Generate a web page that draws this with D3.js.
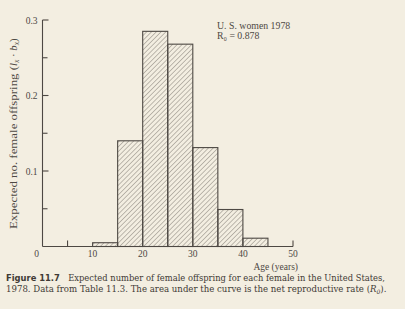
<!DOCTYPE html>
<html><head><meta charset="utf-8">
<script src="https://cdn.jsdelivr.net/npm/d3@7"></script>
<style>
html,body{margin:0;padding:0;background:#f3eee1;}
svg{display:block;}
</style></head>
<body>
<script>
// Data
const binStarts = [10, 15, 20, 25, 30, 35, 40];
const binWidth = 5;
const values = [0.005, 0.140, 0.285, 0.268, 0.131, 0.049, 0.011];
const yTicksMajor = [0.1, 0.2, 0.3];
const yTickLabels = ["0.1", "0.2", "0.3"];
const yTicksMinor = [0.05, 0.15, 0.25];
const xTicksLabeled = [0, 10, 20, 30, 40, 50];
const xTicksMinor = [5, 50];
const legendLines = ["U. S. women 1978", "R\u2080 = 0.878"];
const captionLines = [
  "Expected number of female offspring for each female in the United States,",
  "1978. Data from Table 11.3. The area under the curve is the net reproductive rate ("
];

const W = 405, H = 309;
const ink = "#4d4843";
const svg = d3.select("body").append("svg").attr("width", W).attr("height", H);
svg.append("rect").attr("width", W).attr("height", H).attr("fill", "#f3eee1");

const x = d3.scaleLinear().domain([0, 50]).range([42.5, 293]);
const y = d3.scaleLinear().domain([0, 0.3]).range([246.5, 20]);

const defs = svg.append("defs");
const pat = defs.append("pattern").attr("id", "hatch").attr("patternUnits", "userSpaceOnUse")
  .attr("width", 3.4).attr("height", 3.4).attr("patternTransform", "rotate(45)");
pat.append("line").attr("x1", 0).attr("y1", 0).attr("x2", 0).attr("y2", 3.4)
  .attr("stroke", "#6a645d").attr("stroke-width", 0.8);

svg.append("g").selectAll("rect").data(values).join("rect")
  .attr("x", (d, i) => x(binStarts[i]))
  .attr("width", (d, i) => x(binStarts[i] + binWidth) - x(binStarts[i]))
  .attr("y", d => y(d))
  .attr("height", d => y(0) - y(d))
  .attr("fill", "url(#hatch)")
  .attr("stroke", ink).attr("stroke-width", 1.1);

const ax = svg.append("g").attr("stroke", ink).attr("stroke-width", 1.1).attr("fill", "none");
ax.append("line").attr("x1", x(0)).attr("x2", x(0)).attr("y1", y(0.3)).attr("y2", y(0));
ax.append("line").attr("x1", x(0)).attr("x2", x(50)).attr("y1", y(0)).attr("y2", y(0));
ax.selectAll(".ytM").data(yTicksMajor).join("line")
  .attr("x1", x(0)).attr("x2", x(0) + 6).attr("y1", d => y(d)).attr("y2", d => y(d));
ax.selectAll(".ytm").data(yTicksMinor).join("line")
  .attr("x1", x(0)).attr("x2", x(0) + 5).attr("y1", d => y(d)).attr("y2", d => y(d));
ax.selectAll(".xtm").data(xTicksMinor).join("line")
  .attr("x1", d => x(d)).attr("x2", d => x(d)).attr("y1", y(0)).attr("y2", y(0) - 6);

const serif = "'Liberation Serif','DejaVu Serif',serif";
svg.append("g").selectAll("text").data(yTicksMajor).join("text")
  .attr("x", x(0) - 5).attr("y", d => y(d) + 3.5)
  .attr("text-anchor", "end").attr("font-family", serif).attr("font-size", 9.5)
  .attr("fill", ink).text((d, i) => yTickLabels[i]);
svg.append("g").selectAll("text").data(xTicksLabeled).join("text")
  .attr("x", d => d === 0 ? x(d) - 6 : x(d)).attr("y", 257)
  .attr("text-anchor", "middle").attr("font-family", serif).attr("font-size", 9.5)
  .attr("fill", ink).text(d => d);

svg.append("text").attr("x", 298).attr("y", 270).attr("text-anchor", "end")
  .attr("font-family", serif).attr("font-size", 9.5).attr("fill", ink).text("Age (years)");
const yl = svg.append("text").attr("transform", "translate(17,229) rotate(-90)")
  .attr("text-anchor", "start").attr("font-family", serif).attr("font-size", 10.8).attr("fill", ink);
yl.append("tspan").attr("textLength", 163).attr("lengthAdjust", "spacingAndGlyphs").text("Expected no. female offspring (");
yl.append("tspan").attr("font-style", "italic").text("l");
yl.append("tspan").attr("font-style", "italic").attr("font-size", 7.5).attr("dy", 2).text("x");
yl.append("tspan").attr("dy", -2).text(" \u00b7 ");
yl.append("tspan").attr("font-style", "italic").text("b");
yl.append("tspan").attr("font-style", "italic").attr("font-size", 7.5).attr("dy", 2).text("x");
yl.append("tspan").attr("dy", -2).text(")");

svg.append("g").selectAll("text").data(legendLines).join("text")
  .attr("x", 217).attr("y", (d, i) => 29 + i * 10)
  .attr("font-family", serif).attr("font-size", 9.8).attr("fill", ink).text(d => d);

const cap = svg.append("g").attr("font-family", "'DejaVu Serif',serif").attr("fill", "#3f3a35");
const c1 = cap.append("text").attr("x", 6).attr("y", 281).attr("font-size", 8.6)
  .attr("textLength", 379).attr("lengthAdjust", "spacingAndGlyphs");
c1.append("tspan").attr("font-family", "'DejaVu Sans',sans-serif").attr("font-weight", "bold").text("Figure 11.7");
c1.append("tspan").text("\u2003" + captionLines[0]);
const c2 = cap.append("text").attr("x", 6).attr("y", 292).attr("font-size", 8.6);
c2.append("tspan").attr("textLength", 364).attr("lengthAdjust", "spacingAndGlyphs").text(captionLines[1]);
c2.append("tspan").attr("font-style", "italic").text("R");
c2.append("tspan").attr("font-style", "italic").attr("font-size", 6).attr("dy", 2).text("0");
c2.append("tspan").attr("dy", -2).text(").");
</script>
</body></html>
